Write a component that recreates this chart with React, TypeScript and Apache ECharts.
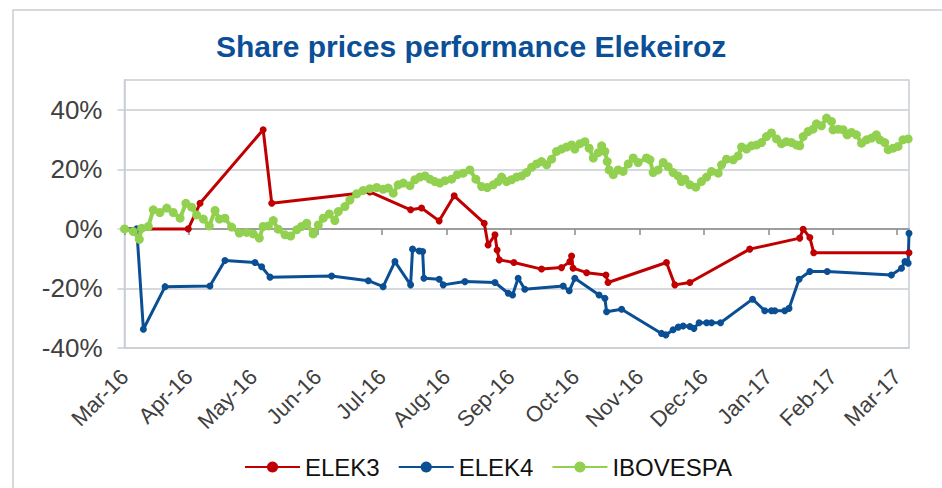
import React, { useEffect, useRef } from 'react';
import * as echarts from 'echarts';

// x values are days since the first observation; ticks every 30 days
const tickLabels = ['Mar-16', 'Apr-16', 'May-16', 'Jun-16', 'Jul-16', 'Aug-16', 'Sep-16', 'Oct-16', 'Nov-16', 'Dec-16', 'Jan-17', 'Feb-17', 'Mar-17'];
const tickDays = tickLabels.map((_, i) => i * 30);
const yTicks = [-40, -20, 0, 20, 40];

const elek3: [number, number][] = [
  [0, 0], [29.7, 0], [35.2, 8.6], [64.6, 33.3], [68.6, 8.6], [114.3, 12.4], [133.3, 6.4], [138.4, 7.0],
  [146.6, 2.7], [153.6, 11.1], [167.6, 1.9], [169.4, -5.4], [172.6, -2.0], [173.6, -7.1], [174.6, -10.4],
  [181.4, -11.3], [194.3, -13.5], [203.6, -13.0], [207.5, -11.0], [208.3, -9.1], [209.0, -13.2],
  [215.3, -14.7], [224.3, -15.5], [225.3, -18.0], [252.5, -11.3], [256.4, -18.8], [263.4, -18.0],
  [291.3, -6.8], [314.6, -3.1], [316.2, -0.1], [319.3, -2.9], [321.1, -8.0], [365.5, -8.0],
];

const elek4: [number, number][] = [
  [0, 0], [5.7, 0], [8.8, -33.7], [18.9, -19.4], [39.8, -19.2], [46.8, -10.6], [60.8, -11.3], [63.9, -12.7],
  [67.8, -16.2], [96.5, -15.8], [113.6, -17.4], [120.5, -19.4], [126.0, -11.0], [133.3, -18.8], [134.2, -6.8],
  [137.3, -7.4], [138.9, -7.6], [139.5, -16.6], [146.6, -16.9], [148.5, -18.8], [158.6, -17.7], [172.6, -18.0],
  [178.8, -21.6], [180.8, -22.2], [183.4, -16.6], [186.5, -20.3], [204.4, -19.2], [207.2, -20.8], [209.8, -16.6],
  [221.1, -22.2], [223.8, -23.3], [224.6, -27.8], [231.6, -27.0], [250.2, -35.1], [252.2, -35.6], [255.6, -33.9],
  [258.0, -33.0], [260.3, -32.6], [263.4, -32.8], [265.3, -33.4], [267.7, -31.5], [271.2, -31.5], [273.5, -31.5],
  [277.7, -31.5], [292.6, -23.6], [298.3, -27.5], [301.4, -27.5], [303.0, -27.5], [307.6, -27.5], [309.6, -26.7],
  [314.3, -16.9], [319.3, -14.3], [327.4, -14.3], [357.3, -15.5], [362.0, -13.2], [363.6, -11.0], [365.1, -11.5],
  [365.5, -1.5],
];

const ibovespa: [number, number][] = [
  [0, 0], [4.1, -0.9], [6.9, -3.5], [8.0, 0.2], [11.1, 0.8], [13.4, 6.4], [16.5, 5.5], [19.7, 7.0], [22.7, 5.5],
  [25.9, 3.6], [28.6, 8.6], [31.3, 7.3], [33.6, 4.7], [36.7, 3.3], [39.5, 1.0], [42.2, 6.2], [44.2, 3.3],
  [46.8, 3.6], [49.9, 0.6], [53.5, -1.4], [56.9, -1.2], [60.0, -1.7], [62.8, -3.1], [64.6, 0.8], [67.0, 1.0],
  [69.3, 2.8], [71.6, -0.1], [74.8, -2.0], [77.4, -2.4], [80.2, -0.3], [82.5, 0.8], [84.9, 1.9], [87.9, -1.7],
  [90.3, 1.3], [92.6, 3.6], [95.4, 5.0], [98.0, 2.8], [99.6, 5.8], [102.7, 7.5], [105.0, 9.7], [108.2, 11.8],
  [111.2, 12.9], [114.3, 13.5], [117.5, 13.9], [120.5, 13.3], [122.9, 13.7], [125.2, 12.0], [127.5, 14.8],
  [129.9, 15.4], [133.0, 14.5], [135.3, 16.5], [137.6, 17.4], [140.0, 17.8], [142.3, 16.7], [144.6, 15.9],
  [146.9, 15.4], [149.3, 16.2], [152.4, 16.7], [155.0, 18.2], [157.8, 18.7], [160.9, 19.8], [163.7, 16.7],
  [166.4, 14.2], [169.0, 13.9], [171.8, 14.8], [174.1, 15.9], [175.7, 17.4], [178.0, 15.9], [180.3, 16.5],
  [182.7, 17.4], [185.0, 17.8], [187.3, 18.9], [189.7, 20.7], [192.0, 21.8], [194.3, 22.6], [196.7, 21.5],
  [199.0, 23.4], [201.3, 26.0], [203.6, 26.8], [206.0, 27.5], [208.3, 28.2], [209.8, 26.8], [212.2, 28.6],
  [214.5, 29.3], [216.5, 27.1], [218.4, 23.8], [220.7, 25.6], [222.3, 27.9], [223.8, 26.0], [224.9, 22.6],
  [225.8, 19.8], [227.7, 18.2], [230.0, 19.8], [232.3, 19.3], [234.7, 21.8], [237.0, 23.8], [239.3, 22.3],
  [243.2, 23.8], [244.8, 23.2], [246.3, 18.9], [248.6, 19.8], [251.0, 22.3], [253.3, 20.9], [255.6, 18.9],
  [257.9, 17.8], [259.5, 15.9], [261.1, 16.7], [263.4, 14.8], [266.2, 14.0], [268.8, 15.9], [271.2, 17.4],
  [273.5, 19.3], [276.6, 18.7], [278.2, 21.5], [280.5, 23.4], [283.6, 23.2], [285.9, 24.5], [287.5, 27.5],
  [289.8, 26.8], [292.1, 27.9], [294.5, 28.2], [296.8, 29.0], [299.1, 31.0], [301.4, 32.2], [303.8, 30.2],
  [306.1, 28.6], [308.4, 29.3], [310.8, 29.0], [313.1, 28.2], [314.6, 27.9], [316.2, 31.0], [318.5, 32.7],
  [320.8, 33.5], [322.4, 35.3], [324.7, 34.6], [327.1, 37.2], [329.4, 36.1], [330.1, 33.3], [332.5, 33.5],
  [334.8, 33.3], [336.7, 31.6], [338.7, 32.4], [341.0, 31.6], [343.4, 28.8], [345.7, 29.9], [348.0, 30.5],
  [350.3, 31.6], [351.9, 29.9], [354.2, 29.0], [355.8, 26.6], [358.1, 27.1], [360.4, 27.7], [362.7, 29.9],
  [365.1, 30.2],
];

const FONT = '"Liberation Sans", Arial, Helvetica, sans-serif';
const GRID_COLOR = '#c9ced3';

export default function App() {
  const ref = useRef<HTMLDivElement>(null);

  useEffect(() => {
    document.body.style.margin = '0';
    const chart = echarts.init(ref.current as HTMLDivElement, null, { renderer: 'svg' });
    const xCommon = {
      type: 'value',
      min: 0,
      max: 365.5,
      interval: 30,
      splitLine: { show: false },
    };
    const mkSeries = (name: string, data: [number, number][], color: string, size: number, width: number) => ({
      name,
      type: 'line',
      xAxisIndex: 0,
      yAxisIndex: 0,
      data,
      symbol: 'circle',
      symbolSize: size,
      showSymbol: true,
      lineStyle: { color, width },
      itemStyle: { color },
      emphasis: { disabled: true },
    });
    chart.setOption({
      animation: false,
      backgroundColor: '#ffffff',
      textStyle: { fontFamily: FONT },
      title: {
        text: 'Share prices performance Elekeiroz',
        left: 211,
        top: 26,
        textStyle: { fontSize: 30, fontWeight: 'bold', color: '#0a4f97', fontFamily: FONT },
      },
      graphic: [
        {
          type: 'rect',
          shape: { x: 13, y: 10, width: 1000, height: 1000 },
          style: { fill: 'none', stroke: GRID_COLOR, lineWidth: 1.5 },
          silent: true,
        },
      ],
      legend: {
        left: 239,
        top: 450,
        itemWidth: 55,
        itemHeight: 14,
        itemGap: 18,
        textStyle: { fontSize: 24, color: '#111111', fontFamily: FONT },
        data: ['ELEK3', 'ELEK4', 'IBOVESPA'],
      },
      grid: {
        left: 124.5,
        right: 33,
        top: 80,
        bottom: 140,
        show: true,
        borderColor: GRID_COLOR,
        borderWidth: 1.5,
        backgroundColor: 'transparent',
        outerBoundsMode: 'none',
      },
      xAxis: [
        {
          ...xCommon,
          position: 'bottom',
          axisLine: { show: true, onZero: true, lineStyle: { color: '#8a8a8a', width: 1.5 } },
          axisTick: { show: true, length: 6, inside: false, lineStyle: { color: '#8a8a8a', width: 1.5 }, customValues: tickDays },
          axisLabel: { show: false },
        },
        {
          ...xCommon,
          position: 'bottom',
          axisLine: { show: false, onZero: false },
          axisTick: { show: false, customValues: tickDays },
          axisLabel: {
            show: true,
            rotate: 45,
            margin: 25,
            fontSize: 22,
            color: '#404040',
            fontFamily: FONT,
            customValues: tickDays,
            formatter: (v: number) => tickLabels[Math.round(v / 30)] ?? '',
          },
        },
      ],
      yAxis: {
        type: 'value',
        min: -40,
        max: 50,
        interval: 20,
        axisLine: { show: true, onZero: false, lineStyle: { color: GRID_COLOR, width: 1.5 } },
        axisTick: { show: true, length: 7, lineStyle: { color: GRID_COLOR, width: 1.5 }, customValues: yTicks },
        splitLine: { show: true, lineStyle: { color: GRID_COLOR, width: 1.5 } },
        axisLabel: {
          margin: 22,
          fontSize: 26,
          color: '#404040',
          fontFamily: FONT,
          customValues: yTicks,
          formatter: (v: number) => `${v}%`,
        },
      },
      series: [
        mkSeries('ELEK3', elek3, '#c00000', 7, 3),
        mkSeries('ELEK4', elek4, '#0a4f94', 7, 3),
        mkSeries('IBOVESPA', ibovespa, '#92d050', 9, 4),
      ],
    });
    return () => chart.dispose();
  }, []);

  return <div ref={ref} style={{ width: 942, height: 488 }} />;
}
